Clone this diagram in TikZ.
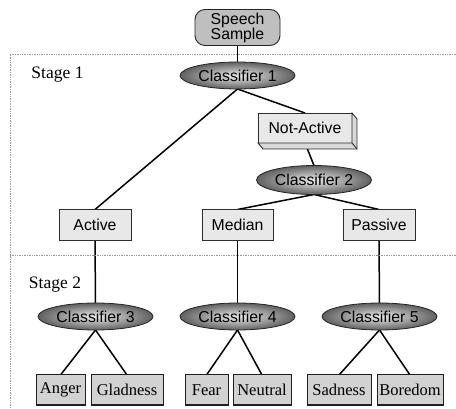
\documentclass[tikz,border=0pt]{standalone}
\usepackage{fontspec}
\setmainfont{Liberation Serif}
\newfontfamily\boxfont{Liberation Sans}
\usetikzlibrary{shapes.geometric,backgrounds}
\begin{document}
\begin{tikzpicture}[x=1pt,y=-1pt,
  every node/.style={inner sep=0pt, outer sep=0pt},
  edge/.style={line width=1.5pt, black},
  frame/.style={densely dotted, gray!80, line width=0.7pt},
  classifier/.style={ellipse, draw=gray!30!black, line width=0.8pt,
    inner color=gray!15, outer color=gray!75!black,
    minimum width=115, minimum height=27,
    font=\boxfont\fontsize{15.8}{17}\selectfont},
  classbox/.style={rectangle, draw=gray!35!black, line width=0.9pt, fill=gray!18,
    minimum height=31, font=\boxfont\fontsize{15.8}{17}\selectfont},
  leafbox/.style={rectangle, draw=gray!25!black, line width=1pt, fill=gray!35,
    minimum height=30, font=\fontsize{16.5}{18}\selectfont},
  stagelabel/.style={font=\fontsize{17.5}{19}\selectfont}]
\useasboundingbox (0,0) rectangle (456,409);

% stage frames
\draw[frame] (456,54) -- (10,54) -- (10,409);
\draw[frame] (10,255) -- (456,255);
\node[stagelabel] (s1) at (57.5,75) {Stage 1};
\node[stagelabel] (s2) at (55,285) {Stage 2};

% input
\node[rectangle, rounded corners=10pt, draw=gray!30!black, line width=0.9pt, fill=gray!50,
  minimum width=85, minimum height=36, align=center,
  font=\boxfont\fontsize{15.8}{15}\selectfont] (speech) at (237.5,27.5) {Speech\\Sample};

% stage 1
\node[classifier] (c1) at (237.5,75.5) {Classifier 1};
\node[classbox, minimum width=94, minimum height=30] (notact) at (305,128) {Not-Active};
\node[classifier, minimum height=29] (c2) at (314,180) {Classifier 2};
\node[classbox, minimum width=72] (active) at (95,225) {Active};
\node[classbox, minimum width=71] (median) at (237.5,225) {Median};
\node[classbox, minimum width=72] (passive) at (379,225) {Passive};

% 3D depth of the Not-Active box
\filldraw[fill=gray!30, draw=gray!35!black, line width=0.9pt]
  (notact.north east) -- ++(5,6) -- ([shift={(5,6)}]notact.south east)
  -- ([shift={(5,6)}]notact.south west) -- (notact.south west)
  -- (notact.south east) -- cycle;
\draw[gray!35!black, line width=0.9pt] (notact.south east) -- ([shift={(5,6)}]notact.south east);

% stage 2
\node[classifier] (c3) at (95.5,316.5) {Classifier 3};
\node[classifier] (c4) at (237.5,316.5) {Classifier 4};
\node[classifier] (c5) at (379.5,316.5) {Classifier 5};

\node[leafbox, minimum width=49] (anger) at (60.5,390) {Anger};
\node[leafbox, minimum width=72] (glad) at (127,390) {Gladness};
\node[leafbox, minimum width=43] (fear) at (206.5,390) {Fear};
\node[leafbox, minimum width=58] (neutral) at (262,390) {Neutral};
\node[leafbox, minimum width=64] (sad) at (339,390) {Sadness};
\node[leafbox, minimum width=66] (bored) at (410,390) {Boredom};

% connectors
\begin{scope}[on background layer]
\draw[edge] (speech.south) -- (c1.north);
\draw[edge] (c1.south) -- (active.north);
\draw[edge] (c1.south) -- (notact.north);
\draw[edge] (notact.south) -- (c2.north);
\draw[edge] (c2.south) -- (median.north);
\draw[edge] (c2.south) -- (passive.north);
\draw[edge] (active.south) -- (c3.north);
\draw[edge] (median.south) -- (c4.north);
\draw[edge] (passive.south) -- (c5.north);
\draw[edge] (c3.south) -- (anger.north);
\draw[edge] (c3.south) -- (glad.north);
\draw[edge] (c4.south) -- (fear.north);
\draw[edge] (c4.south) -- (neutral.north);
\draw[edge] (c5.south) -- (sad.north);
\draw[edge] (c5.south) -- (bored.north);
\end{scope}
\end{tikzpicture}
\end{document}
